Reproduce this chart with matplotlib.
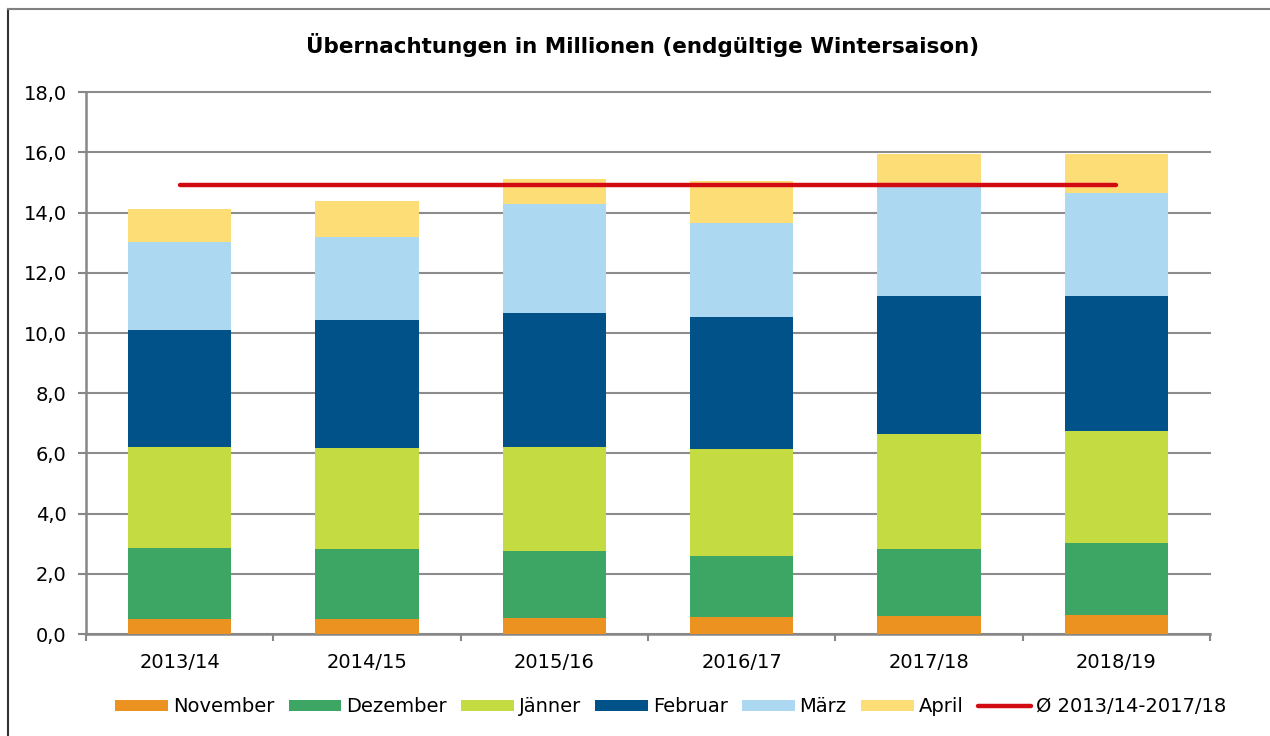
import matplotlib
matplotlib.use("Agg")
import matplotlib.pyplot as plt
import numpy as np
from matplotlib.lines import Line2D
from matplotlib.ticker import FixedLocator, FuncFormatter

seasons = ["2013/14", "2014/15", "2015/16", "2016/17", "2017/18", "2018/19"]
months = ["November", "Dezember", "Jänner", "Februar", "März", "April"]

november = [0.50, 0.50, 0.52, 0.55, 0.59, 0.63]
dezember = [2.35, 2.32, 2.24, 2.03, 2.23, 2.39]
jaenner  = [3.37, 3.36, 3.46, 3.57, 3.83, 3.72]
februar  = [3.87, 4.24, 4.43, 4.37, 4.57, 4.50]
maerz    = [2.93, 2.77, 3.65, 3.14, 3.63, 3.41]
april    = [1.09, 1.20, 0.81, 1.39, 1.11, 1.31]

avg_label = "Ø 2013/14-2017/18"
yticks = [0, 2, 4, 6, 8, 10, 12, 14, 16, 18]

colors = ["#EC9220", "#3DA665", "#C4DC42", "#005288", "#ADD8F1", "#FDDE76"]
line_color = "#D20A11"
grid_color = "#8C8C8C"

series = [november, dezember, jaenner, februar, maerz, april]
totals = np.sum(np.array(series), axis=0)
avg_value = float(np.mean(totals[:5]))

plt.rcParams["font.family"] = ["DejaVu Sans"]

fig = plt.figure(figsize=(12.7, 7.36), dpi=100)
ax = fig.add_axes([86 / 1270, 1 - 634 / 736, (1210 - 86) / 1270, (634 - 92.3) / 736])

x = np.arange(len(seasons))
bottom = np.zeros(len(seasons))
handles = []
for vals, col, name in zip(series, colors, months):
    b = ax.bar(x, vals, width=0.55, bottom=bottom, color=col, label=name, zorder=3,
               linewidth=0)
    bottom += np.array(vals)
    handles.append(b)

avg_line, = ax.plot([x[0], x[-1]], [avg_value, avg_value], color=line_color, lw=3.2,
                    solid_capstyle="round", zorder=4, label=avg_label)

ax.set_xlim(-0.5, len(seasons) - 0.5)
ax.set_ylim(0, 18)
ax.set_yticks(yticks)
ax.yaxis.set_major_formatter(FuncFormatter(lambda v, p: f"{v:.1f}".replace(".", ",")))
ax.set_xticks(x)
ax.set_xticklabels(seasons)
ax.xaxis.set_minor_locator(FixedLocator(np.arange(-0.5, len(seasons), 1.0)))
ax.tick_params(axis="x", which="major", length=0, pad=14, labelsize=14)
ax.tick_params(axis="x", which="minor", length=5, width=1.5, color="#878787", direction="out")
ax.tick_params(axis="y", which="major", length=6, width=1.5, color="#878787", pad=8, labelsize=14)

ax.yaxis.grid(True, color=grid_color, lw=1.5, zorder=0, clip_on=False)
ax.set_axisbelow(True)
for s in ["top", "right"]:
    ax.spines[s].set_visible(False)
for s in ["left", "bottom"]:
    ax.spines[s].set_color("#878787")
    ax.spines[s].set_linewidth(1.8)

fig.text(0.506, 1 - 45 / 736, "Übernachtungen in Millionen (endgültige Wintersaison)",
         ha="center", va="center", fontsize=15.5, fontweight="bold")

leg = fig.legend(handles + [avg_line], months + [avg_label], loc="center",
                 bbox_to_anchor=(0.528, 1 - 707 / 736), ncol=7, frameon=False,
                 fontsize=14, handlelength=2.7, handleheight=0.55, handletextpad=0.25,
                 columnspacing=0.75)

# outer border
fig.add_artist(Line2D([8 / 1270, 8 / 1270], [0, 1 - 9 / 736], transform=fig.transFigure,
                      color="#333333", lw=1.5))
fig.add_artist(Line2D([8 / 1270, 1], [1 - 9 / 736, 1 - 9 / 736], transform=fig.transFigure,
                      color="#808080", lw=1.5))

fig.savefig("out.png", dpi=100)
